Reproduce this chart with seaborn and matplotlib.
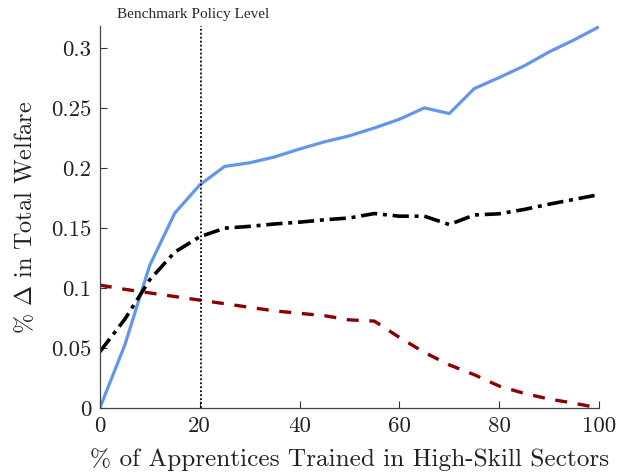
import matplotlib
matplotlib.use("Agg")
import matplotlib.pyplot as plt
import seaborn as sns
import pandas as pd

# Share of apprentices trained in high-skill sectors (%)
share = [0, 5, 10, 15, 20, 25, 30, 35, 40, 45, 50,
         55, 60, 65, 70, 75, 80, 85, 90, 95, 100]

# Change in total welfare (%) for each scenario
welfare_total = [0.000, 0.0525, 0.119, 0.1625, 0.186, 0.2015, 0.2045, 0.2094, 0.2160, 0.2220, 0.2270,
                 0.2336, 0.2408, 0.2503, 0.2456, 0.2664, 0.2756, 0.2853, 0.2970, 0.3070, 0.3180]
welfare_mid = [0.0469, 0.0740, 0.1070, 0.1300, 0.1428, 0.1500, 0.1515, 0.1535, 0.1550, 0.1570, 0.1585,
               0.1622, 0.1600, 0.1600, 0.1530, 0.1610, 0.1620, 0.1656, 0.1700, 0.1740, 0.1780]
welfare_low = [0.1025, 0.0990, 0.0960, 0.0930, 0.0900, 0.0870, 0.0840, 0.0810, 0.0790, 0.0770, 0.0735,
               0.0725, 0.0589, 0.0464, 0.0360, 0.0278, 0.0183, 0.0122, 0.0075, 0.0040, 0.0000]

benchmark = 20.3
y_ticks = [0, 0.05, 0.1, 0.15, 0.2, 0.25, 0.3]
y_tick_labels = ["0", "0.05", "0.1", "0.15", "0.2", "0.25", "0.3"]
x_ticks = [0, 20, 40, 60, 80, 100]

sns.set_style("white")
plt.rcParams["font.family"] = ["cmr10", "DejaVu Serif"]
plt.rcParams["mathtext.fontset"] = "cm"
plt.rcParams["axes.unicode_minus"] = False

df = pd.DataFrame({"share": share, "total": welfare_total,
                   "mid": welfare_mid, "low": welfare_low})

fig = plt.figure(figsize=(6.24, 4.75), dpi=100)
ax = fig.add_axes([0.160, 0.141, 0.800, 0.804])

sns.lineplot(data=df, x="share", y="total", ax=ax, color="#6495ED", lw=2.3)
sns.lineplot(data=df, x="share", y="mid", ax=ax, color="black", lw=2.6)
sns.lineplot(data=df, x="share", y="low", ax=ax, color="#8B0000", lw=2.4)
ax.lines[1].set_dashes([4.5, 1.6, 1.1, 1.6])
ax.lines[2].set_dashes([3.6, 3.2])

ax.axvline(benchmark, color="black", lw=1.3, ls=(0, (1, 1.2)))
ax.text(18.6, 0.3225, "Benchmark Policy Level", ha="center", va="bottom",
        fontsize=11, family="Liberation Serif", clip_on=False)

ax.set_xlim(0, 100)
ax.set_ylim(0, 0.3185)
ax.set_xticks(x_ticks)
ax.set_xticklabels([str(v) for v in x_ticks])
ax.set_yticks(y_ticks)
ax.set_yticklabels(y_tick_labels)
ax.tick_params(bottom=True, left=True, direction="in", length=5, width=0.8,
               colors="#333333", labelsize=16.5, labelcolor="#222222", pad=6)

for side in ("top", "right"):
    ax.spines[side].set_visible(False)
for side in ("left", "bottom"):
    ax.spines[side].set_color("#444444")
    ax.spines[side].set_linewidth(0.9)

ax.set_xlabel("% of Apprentices Trained in High-Skill Sectors", fontsize=18.2,
              color="#222222", labelpad=9)
ax.set_ylabel(r"% $\Delta$ in Total Welfare", fontsize=17.4, color="#222222",
              labelpad=10)

fig.savefig("out.png", dpi=100)
